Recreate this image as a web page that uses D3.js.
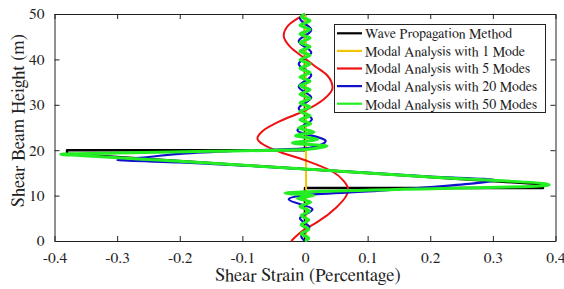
<!DOCTYPE html>
<html>
<head>
<meta charset="utf-8">
<script src="https://cdn.jsdelivr.net/npm/d3@7"></script>
<style>
  body { margin: 0; background: #fff; }
</style>
</head>
<body>
<svg id="chart" width="564" height="289"></svg>
<script>
var xTicks = [-0.4, -0.3, -0.2, -0.1, 0, 0.1, 0.2, 0.3, 0.4];
var yTicks = [0, 10, 20, 30, 40, 50];

var seriesNames = [
  'Wave Propagation Method',
  'Modal Analysis with 1 Mode',
  'Modal Analysis with 5 Modes',
  'Modal Analysis with 20 Modes',
  'Modal Analysis with 50 Modes'
];

// [strain, height]
var wave = [[0, 0], [0, 11.7], [0.38, 11.7], [0.38, 12.5], [-0.38, 19.2], [-0.38, 20], [0, 20], [0, 50]];

var mode1 = [[0.002, 0], [0.0015, 20], [0, 50]];

var mode5 = [[-0.022, 0], [0.0, 2.6], [0.02, 4.2], [0.05, 7.4], [0.066, 10], [0.069, 11.3], [0.062, 13.2],
  [0.045, 15.2], [0.004, 17.6], [-0.04, 19.6], [-0.066, 21.2], [-0.076, 22.6], [-0.068, 24.2], [-0.04, 26.4],
  [0, 28.7], [0.03, 31.2], [0.044, 33.8], [0.036, 36.4], [0.015, 38.6], [0, 40.2], [-0.024, 42.8],
  [-0.034, 45.2], [-0.026, 47.6], [0, 50]];

var mode20 = [[0, 0], [-0.006, 1.0], [0.007, 3.0], [-0.008, 5.0], [0.012, 7.0], [-0.026, 9.2], [0, 10.1],
  [0.1, 10.9], [0.2, 11.9], [0.27, 12.7], [0.305, 13.4], [0.2, 14.2], [0, 15.85], [-0.2, 17.3],
  [-0.3, 17.85], [-0.25, 18.5], [-0.19, 19.3], [-0.1, 19.9], [0, 20.4], [0.025, 21.2], [0.033, 22.0],
  [-0.012, 24.4], [0.011, 26.8], [-0.01, 29.2], [0.01, 31.6], [-0.01, 34.0], [0.01, 36.5], [-0.01, 39.0],
  [0.01, 41.5], [-0.01, 44.0], [0.01, 46.5], [-0.008, 49.0], [0, 50]];

var mode50 = [[0, 0], [0.006, 0.6], [-0.006, 1.6], [0.006, 2.6], [-0.006, 3.6], [0.006, 4.6], [-0.006, 5.6],
  [0.007, 6.6], [-0.008, 7.6], [0.009, 8.6], [-0.012, 9.4], [0.014, 10.0], [-0.032, 10.55], [0, 10.85],
  [0.2, 11.5], [0.35, 11.95], [0.39, 12.35], [0.2, 14.1], [0, 15.85], [-0.2, 17.55], [-0.36, 18.85],
  [-0.39, 19.1], [-0.3, 19.4], [-0.15, 19.75], [0, 20.15], [0.035, 20.9], [-0.02, 21.6], [0.02, 22.4],
  [-0.015, 23.2], [0.014, 24.0], [-0.01, 24.9], [0.009, 25.8], [-0.008, 26.7], [0.008, 27.6],
  [-0.008, 28.5], [0.008, 29.5], [-0.008, 30.4], [0.008, 31.4], [-0.008, 32.3], [0.008, 33.3],
  [-0.008, 34.2], [0.008, 35.2], [-0.008, 36.1], [0.008, 37.1], [-0.008, 38.0], [0.008, 39.0],
  [-0.008, 39.9], [0.008, 40.9], [-0.008, 41.8], [0.008, 42.8], [-0.008, 43.7], [0.008, 44.7],
  [-0.008, 45.6], [0.008, 46.6], [-0.008, 47.5], [0.008, 48.5], [-0.006, 49.4], [0, 50]];

var colors = ['#000000', '#f5c400', '#ee1111', '#1111cc', '#22ee22'];
var widths = [2.5, 2, 2, 2.2, 3];

var FONT = 'FreeSerif, "Liberation Serif", "Times New Roman", serif';

var svg = d3.select('#chart');
var margin = {left: 54.5, right: 8.5, top: 14, bottom: 48};
var W = 564, H = 289;

var x = d3.scaleLinear().domain([-0.4, 0.4]).range([margin.left, W - margin.right]);
var y = d3.scaleLinear().domain([0, 50]).range([H - margin.bottom, margin.top]);

var axisColor = '#222';

// axes with inward ticks
svg.append('g')
  .attr('transform', 'translate(0,' + y(0) + ')')
  .call(d3.axisBottom(x).tickValues(xTicks).tickSizeInner(-5).tickSizeOuter(0).tickPadding(11)
    .tickFormat(function(d) { return String(d); }));
svg.append('g')
  .attr('transform', 'translate(0,' + y(50) + ')')
  .call(d3.axisTop(x).tickValues(xTicks).tickSizeInner(-5).tickSizeOuter(0).tickFormat(''));
svg.append('g')
  .attr('transform', 'translate(' + x(-0.4) + ',0)')
  .call(d3.axisLeft(y).tickValues(yTicks).tickSizeInner(-5).tickSizeOuter(0).tickPadding(10)
    .tickFormat(function(d) { return String(d); }));
svg.append('g')
  .attr('transform', 'translate(' + x(0.4) + ',0)')
  .call(d3.axisRight(y).tickValues(yTicks).tickSizeInner(-5).tickSizeOuter(0).tickFormat(''));

svg.selectAll('g').attr('font-family', FONT).attr('font-size', 15.5);
svg.selectAll('.domain').attr('stroke', axisColor);
svg.selectAll('.tick line').attr('stroke', axisColor);
svg.selectAll('.tick text').attr('fill', axisColor);

// lines
var lineStraight = d3.line().x(function(d) { return x(d[0]); }).y(function(d) { return y(d[1]); });
var lineSmooth = d3.line().x(function(d) { return x(d[0]); }).y(function(d) { return y(d[1]); })
  .curve(d3.curveMonotoneY);

var series = [wave, mode1, mode5, mode20, mode50];
series.forEach(function(s, i) {
  svg.append('path')
    .datum(s)
    .attr('d', i === 0 || i === 1 ? lineStraight : lineSmooth)
    .attr('fill', 'none')
    .attr('stroke', colors[i])
    .attr('stroke-width', widths[i])
    .attr('stroke-linejoin', 'round');
});

// axis titles
svg.append('text')
  .attr('x', (x(-0.4) + x(0.4)) / 2 + 3)
  .attr('y', 281)
  .attr('text-anchor', 'middle')
  .attr('fill', axisColor)
  .attr('font-family', FONT)
  .attr('font-size', 18.5)
  .text('Shear Strain (Percentage)');

svg.append('text')
  .attr('transform', 'translate(24,' + ((y(0) + y(50)) / 2 - 7) + ') rotate(-90)')
  .attr('text-anchor', 'middle')
  .attr('fill', axisColor)
  .attr('font-family', FONT)
  .attr('font-size', 18.5)
  .text('Shear Beam Height (m)');

// legend
var legend = svg.append('g');
legend.append('rect')
  .attr('x', 334.5).attr('y', 24.5)
  .attr('width', 211).attr('height', 88)
  .attr('fill', '#fff')
  .attr('stroke', axisColor)
  .attr('stroke-width', 1);

seriesNames.forEach(function(name, i) {
  var ly = 33.3 + i * 17.6;
  legend.append('line')
    .attr('x1', 337).attr('x2', 362)
    .attr('y1', ly).attr('y2', ly)
    .attr('stroke', colors[i])
    .attr('stroke-width', 2.2);
  legend.append('text')
    .attr('x', 365)
    .attr('y', ly + 4.8)
    .attr('fill', axisColor)
    .attr('font-family', FONT)
    .attr('font-size', 14)
    .text(name);
});
</script>
</body>
</html>
